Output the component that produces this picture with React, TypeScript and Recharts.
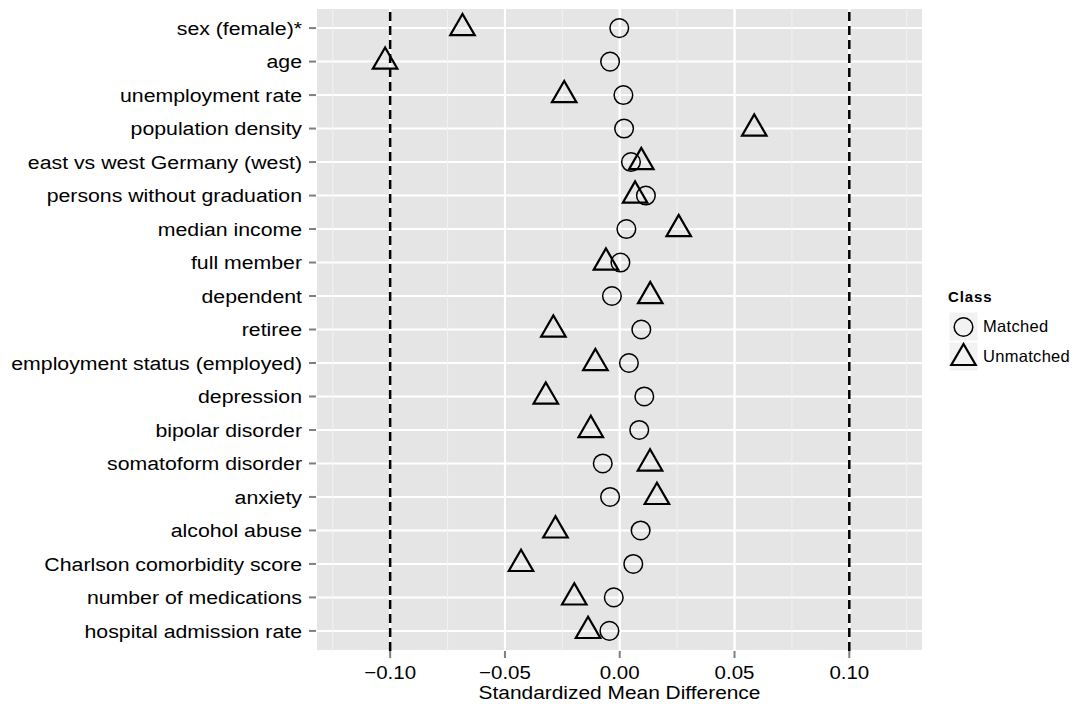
import { ScatterChart, Scatter, XAxis, YAxis, CartesianGrid, ReferenceLine, Legend } from "recharts";

const categories = [
  "sex (female)*",
  "age",
  "unemployment rate",
  "population density",
  "east vs west Germany (west)",
  "persons without graduation",
  "median income",
  "full member",
  "dependent",
  "retiree",
  "employment status (employed)",
  "depression",
  "bipolar disorder",
  "somatoform disorder",
  "anxiety",
  "alcohol abuse",
  "Charlson comorbidity score",
  "number of medications",
  "hospital admission rate",
];

const matched = [
  -0.0002, -0.0042, 0.0016, 0.0019, 0.0049, 0.0114, 0.0029, 0.0003, -0.0034, 0.0094,
  0.004, 0.0107, 0.0085, -0.0074, -0.0042, 0.0091, 0.0059, -0.0026, -0.0045,
];

const unmatched = [
  -0.0685, -0.1022, -0.0242, 0.0586, 0.0094, 0.0067, 0.0257, -0.006, 0.0133, -0.0289,
  -0.0106, -0.0322, -0.0126, 0.0132, 0.0162, -0.028, -0.043, -0.0198, -0.0138,
];

const xTicks = [-0.1, -0.05, 0, 0.05, 0.1];
const xTickLabels = ["\u22120.10", "\u22120.05", "0.00", "0.05", "0.10"];
const minorTicks = [-0.125, -0.075, -0.025, 0.025, 0.075, 0.125];
const thresholds = [-0.1, 0.1];

const FONT = '"Liberation Sans", Arial, sans-serif';
const SX = 1.12; // text in the original is a bit wide

const matchedData = categories.map((_, i) => ({ x: matched[i], y: i + 1 }));
const unmatchedData = categories.map((_, i) => ({ x: unmatched[i], y: i + 1 }));
const yTicks = categories.map((_, i) => i + 1);

const CircleShape = (props: any) => (
  <circle cx={props.cx} cy={props.cy} r={9.3} fill="none" stroke="#000" strokeWidth={1.5} />
);

const TriangleShape = (props: any) => {
  const { cx, cy } = props;
  const s = 24.5;
  const h = s * 0.866;
  const pts = `${cx},${cy - (h * 2) / 3} ${cx - s / 2},${cy + h / 3} ${cx + s / 2},${cy + h / 3}`;
  return <polygon points={pts} fill="none" stroke="#000" strokeWidth={2.2} strokeLinejoin="miter" />;
};

const YTick = (props: any) => {
  const { x, y, payload } = props;
  return (
    <text
      transform={`translate(${x},${y}) scale(${SX},1)`}
      dy="0.36em"
      textAnchor="end"
      fontFamily={FONT}
      fontSize={19}
      fill="#000"
    >
      {categories[payload.value - 1]}
    </text>
  );
};

const XTick = (props: any) => {
  const { x, y, payload } = props;
  const idx = xTicks.indexOf(payload.value);
  return (
    <text
      transform={`translate(${x},${y}) scale(${SX},1)`}
      dy="0.72em"
      textAnchor="middle"
      fontFamily={FONT}
      fontSize={18.3}
      fill="#000"
    >
      {xTickLabels[idx]}
    </text>
  );
};

const AxisTitle = (props: any) => {
  const vb = props.viewBox || {};
  const cx = vb.x + vb.width / 2;
  const by = vb.y + vb.height - 5;
  return (
    <text
      transform={`translate(${cx},${by}) scale(1.1,1)`}
      textAnchor="middle"
      fontFamily={FONT}
      fontSize={19}
      fill="#000"
    >
      Standardized Mean Difference
    </text>
  );
};

const LegendBox = () => (
  <div style={{ fontFamily: FONT, color: "#000" }}>
    <div style={{ fontWeight: "bold", fontSize: 15, letterSpacing: 0.9, height: 24, marginLeft: 8, marginTop: 3 }}>
      Class
    </div>
    {["Matched", "Unmatched"].map((name) => (
      <div key={name} style={{ display: "flex", alignItems: "center", height: 29.5, marginLeft: 9 }}>
        <svg width={29} height={29}>
          <rect x={0} y={0} width={29} height={29} fill="#F2F2F2" stroke="#fff" strokeWidth={1} />
          {name === "Matched" ? (
            <circle cx={14.5} cy={15} r={9.3} fill="none" stroke="#000" strokeWidth={1.5} />
          ) : (
            <polygon points="14.5,2 2.3,23 26.7,23" fill="none" stroke="#000" strokeWidth={2.2} />
          )}
        </svg>
        <span style={{ fontSize: 16.5, letterSpacing: 0.3, marginLeft: 5 }}>{name}</span>
      </div>
    ))}
  </div>
);

export default function App() {
  return (
    <div style={{ position: "absolute", left: 0, top: 0, background: "#fff" }}>
      <ScatterChart width={1091} height={704} margin={{ top: 8, right: 168, bottom: 0, left: 0 }}>
        <CartesianGrid fill="#E5E5E5" stroke="#fff" strokeWidth={2} />
        {minorTicks.map((v) => (
          <ReferenceLine key={v} x={v} stroke="#F2F2F2" strokeWidth={1} />
        ))}
        {xTicks.map((v) => (
          <ReferenceLine key={"M" + v} x={v} stroke="#fff" strokeWidth={2} />
        ))}
        <XAxis
          type="number"
          dataKey="x"
          domain={[-0.1323, 0.1321]}
          allowDataOverflow
          ticks={xTicks}
          height={53}
          axisLine={false}
          tickSize={7}
          tickMargin={8}
          tickLine={{ stroke: "#7F7F7F", strokeWidth: 2 }}
          tick={XTick}
          label={<AxisTitle />}
        />
        <YAxis
          type="number"
          dataKey="y"
          domain={[0.4, 19.6]}
          reversed
          allowDataOverflow
          ticks={yTicks}
          interval={0}
          width={316}
          axisLine={false}
          tickSize={7}
          tickMargin={7}
          tickLine={{ stroke: "#7F7F7F", strokeWidth: 2 }}
          tick={YTick}
        />
        {thresholds.map((v) => (
          <ReferenceLine key={"T" + v} x={v} stroke="#000" strokeWidth={2.5} strokeDasharray="9 5" />
        ))}
        <Scatter name="Matched" data={matchedData} shape={CircleShape} isAnimationActive={false} />
        <Scatter name="Unmatched" data={unmatchedData} shape={TriangleShape} isAnimationActive={false} />
        <Legend
          layout="vertical"
          align="center"
          verticalAlign="middle"
          content={LegendBox}
          wrapperStyle={{ left: 940, top: 285, width: 150 }}
        />
      </ScatterChart>
    </div>
  );
}
